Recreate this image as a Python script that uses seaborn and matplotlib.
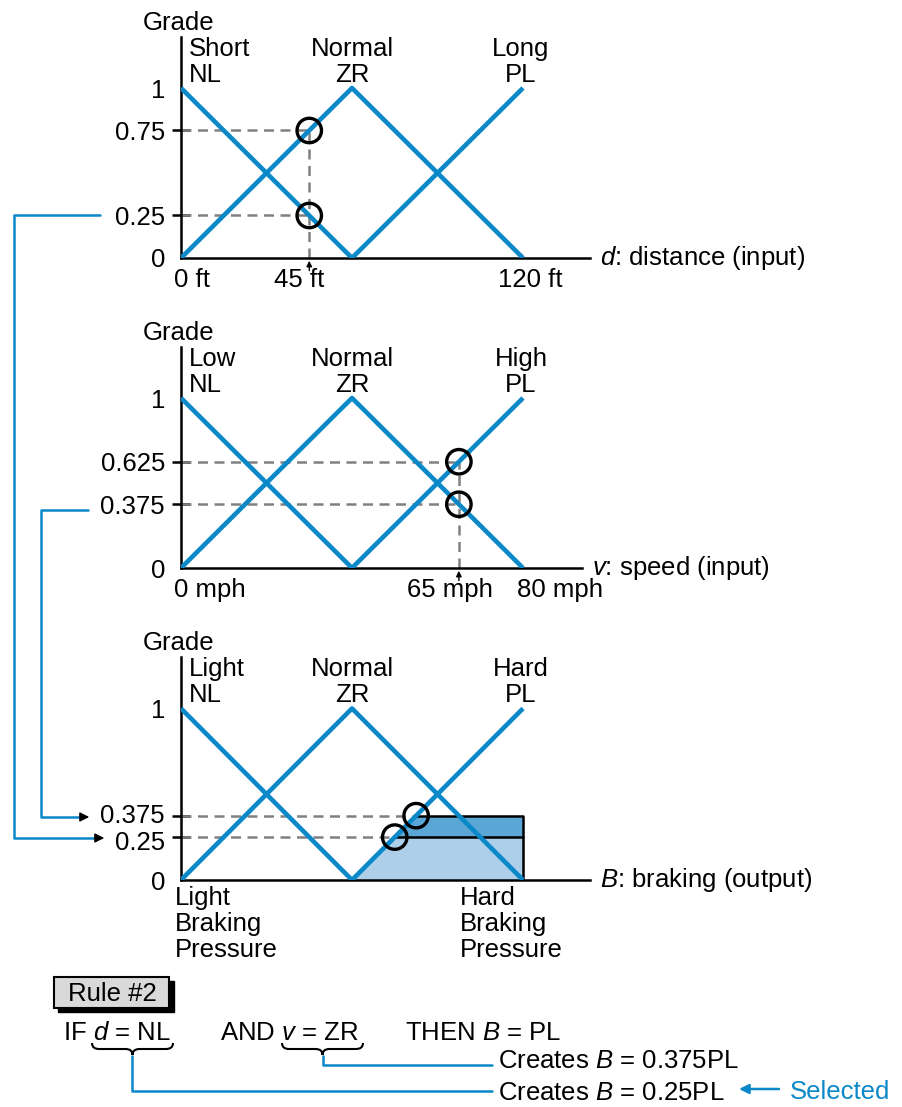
import pandas as pd
import seaborn as sns
import matplotlib.pyplot as plt
from matplotlib.path import Path
from matplotlib.patches import PathPatch, Rectangle

# ---------------------------------------------------------------- data
NL_GRADES = [1, 0]
ZR_GRADES = [0, 1, 0]
PL_GRADES = [0, 1]

DIST_BREAKS = [0, 60, 120]
DIST_INPUT = 45
DIST_GRADES = [0.75, 0.25]
DIST_TICKS = [0, 45, 120]
DIST_TICK_LABELS = ['0 ft', '45 ft', '120 ft']

SPEED_BREAKS = [0, 40, 80]
SPEED_INPUT = 65
SPEED_GRADES = [0.625, 0.375]
SPEED_TICKS = [0, 65, 80]
SPEED_TICK_LABELS = ['0 mph', '65 mph', '80 mph']

BRAKE_BREAKS = [0, 50, 100]
BRAKE_GRADES = [0.375, 0.25]
BRAKE_CUT_X = [68.75, 62.5]     # where PL reaches 0.375 / 0.25

DIST_TERMS = ['Short\nNL', 'Normal\nZR', 'Long\nPL']
SPEED_TERMS = ['Low\nNL', 'Normal\nZR', 'High\nPL']
BRAKE_TERMS = ['Light\nNL', 'Normal\nZR', 'Hard\nPL']

# ---------------------------------------------------------------- style
BLUE = '#0a88c8'
GRAY = '#808080'
FS = 18.5
W, H = 903, 1107
PX_PER_UNIT = 342.0   # pixels between 0 and the top break on the x axis
LS = 1.1

sns.set_theme(style='white')
plt.rcParams['font.family'] = ['Liberation Sans', 'DejaVu Sans']
plt.rcParams['mathtext.fontset'] = 'custom'
plt.rcParams['mathtext.rm'] = 'Liberation Sans'
plt.rcParams['mathtext.it'] = 'Liberation Sans:italic'
plt.rcParams['font.size'] = FS
plt.rcParams['text.color'] = 'black'
plt.rcParams['ytick.labelcolor'] = 'black'
plt.rcParams['xtick.labelcolor'] = 'black'


def membership_frame(breaks):
    lo, mid, hi = breaks
    rows = []
    for term, xs, ys in [('NL', [lo, mid], NL_GRADES),
                         ('ZR', [lo, mid, hi], ZR_GRADES),
                         ('PL', [mid, hi], PL_GRADES)]:
        rows += [dict(x=x, grade=g, term=term) for x, g in zip(xs, ys)]
    return pd.DataFrame(rows)


def px_axes(fig, left, right, top, bottom):
    return fig.add_axes([left / W, 1 - bottom / H, (right - left) / W, (bottom - top) / H])


def setup_panel(ax, breaks, right_px, marks, terms, xlabel, label_shift=(0, 0)):
    df = membership_frame(breaks)
    sns.lineplot(data=df, x='x', y='grade', hue='term', palette=[BLUE] * 3,
                 legend=False, sort=False, estimator=None, lw=3.3, ax=ax,
                 solid_capstyle='butt', zorder=3)
    xmax = breaks[2] * (right_px - 181) / PX_PER_UNIT
    ax.set_xlim(0, xmax)
    ax.set_ylim(0, 1.3)
    ax.set_facecolor('none')
    for s in ['top', 'right']:
        ax.spines[s].set_visible(False)
    for s in ['left', 'bottom']:
        ax.spines[s].set_color('black')
        ax.spines[s].set_linewidth(1.8)
    ax.set_xlabel('')
    ax.set_ylabel('')
    ax.set_xticks([])
    ax.set_yticks(marks, labels=[''] * len(marks))
    ax.set_yticks([0, 1], labels=['0', '1'], minor=True)
    ax.tick_params(axis='y', which='major', direction='inout', length=13,
                   width=1.8, color='black', left=True)
    ax.tick_params(axis='y', which='minor', length=0, pad=11.5, labelsize=FS)
    for m, dy in zip(marks, label_shift):
        ax.annotate(f'{m:g}', xy=(0, m), xytext=(-16, dy), textcoords='offset pixels',
                    ha='right', va='center_baseline', annotation_clip=False)
    ax.annotate('Grade', xy=(0, 1.3), xytext=(-2, 2), textcoords='offset pixels',
                ha='center', va='bottom', annotation_clip=False)
    pos = [(0, 8, 'left'), (breaks[1], 0, 'center'), (breaks[2], -2, 'center')]
    for text, (x, dx, ha) in zip(terms, pos):
        ax.annotate(text, xy=(x, 1.3), xytext=(dx, 0), textcoords='offset pixels',
                    ha=ha, va='top', linespacing=LS, annotation_clip=False)
    ax.annotate(xlabel, xy=(1, 0), xycoords='axes fraction', xytext=(10, 0),
                textcoords='offset pixels', ha='left', va='center')


def guides(ax, xs, grades, vertical=None):
    dash = (0, (4, 2.6))
    for x, g in zip(xs, grades):
        ax.plot([0, x], [g, g], ls=dash, color=GRAY, lw=1.8, zorder=2)
    if vertical is not None:
        ax.plot([vertical, vertical], [0, max(grades)], ls=dash,
                color=GRAY, lw=1.8, zorder=2)
    ax.scatter(xs, grades, s=310, facecolors='none', edgecolors='black',
               linewidths=2.4, zorder=6, clip_on=False)


def x_labels(ax, ticks, labels, offsets):
    for t, lab, (dx, ha) in zip(ticks, labels, offsets):
        ax.annotate(lab, xy=(t, 0), xytext=(dx, -10), textcoords='offset pixels',
                    ha=ha, va='top', annotation_clip=False)


fig = plt.figure(figsize=(W / 100, H / 100), dpi=100)
ov = fig.add_axes([0, 0, 1, 1])
ov.set_xlim(0, W)
ov.set_ylim(H, 0)
ov.axis('off')

# ---------------------------------------------------------------- panel 1: distance
ax1 = px_axes(fig, 181, 590, 37, 258)
setup_panel(ax1, DIST_BREAKS, 590, DIST_GRADES, DIST_TERMS, r'$\mathit{d}$: distance (input)')
guides(ax1, [DIST_INPUT] * 2, DIST_GRADES, vertical=DIST_INPUT)
x_labels(ax1, DIST_TICKS, DIST_TICK_LABELS, [(-7, 'left'), (-10, 'center'), (7, 'center')])
ax1.annotate('', xy=(DIST_INPUT, 0), xytext=(DIST_INPUT, -0.09),
             arrowprops=dict(arrowstyle='-|>', color='black', lw=1, mutation_scale=8),
             annotation_clip=False)

# ---------------------------------------------------------------- panel 2: speed
ax2 = px_axes(fig, 181, 582, 347, 568)
setup_panel(ax2, SPEED_BREAKS, 582, SPEED_GRADES, SPEED_TERMS, r'$\mathit{v}$: speed (input)')
guides(ax2, [SPEED_INPUT] * 2, SPEED_GRADES, vertical=SPEED_INPUT)
x_labels(ax2, SPEED_TICKS, SPEED_TICK_LABELS, [(-7, 'left'), (-9, 'center'), (-6, 'left')])
ax2.annotate('', xy=(SPEED_INPUT, 0), xytext=(SPEED_INPUT, -0.09),
             arrowprops=dict(arrowstyle='-|>', color='black', lw=1, mutation_scale=8),
             annotation_clip=False)

# ---------------------------------------------------------------- panel 3: braking
ax3 = px_axes(fig, 181, 590, 657, 880)
setup_panel(ax3, BRAKE_BREAKS, 590, BRAKE_GRADES, BRAKE_TERMS, r'$\mathit{B}$: braking (output)',
            label_shift=(2, -3))
hi, lo = BRAKE_GRADES
x_hi, x_lo = BRAKE_CUT_X
mid, top = BRAKE_BREAKS[1], BRAKE_BREAKS[2]
ax3.fill_between([mid, x_lo, top], [0, 0, 0], [0, lo, lo], color='#aecfe9', lw=0, zorder=1)
ax3.fill_between([x_lo, x_hi, top], [lo, lo, lo], [lo, hi, hi], color='#5aa7d5', lw=0, zorder=1)
ax3.plot([x_hi, top, top], [hi, hi, 0], color='black', lw=1.8, zorder=2)
ax3.plot([x_lo, top], [lo, lo], color='black', lw=1.8, zorder=2)
guides(ax3, BRAKE_CUT_X, BRAKE_GRADES)
ax3.annotate('Light\nBraking\nPressure', xy=(0, 0), xytext=(-6, -6), textcoords='offset pixels',
             ha='left', va='top', linespacing=LS, annotation_clip=False)
ax3.annotate('Hard\nBraking\nPressure', xy=(top, 0), xytext=(-63, -6), textcoords='offset pixels',
             ha='left', va='top', linespacing=LS, annotation_clip=False)

# ---------------------------------------------------------------- connectors on the left
ov.plot([100, 14, 14, 94], [215, 215, 838, 838], color=BLUE, lw=1.8)
ov.plot([88, 41, 41, 82], [510, 510, 817, 817], color=BLUE, lw=1.8)
for x0, x1, y in [(92, 107, 838), (80, 92, 817)]:
    ov.annotate('', xy=(x1, y), xytext=(x0, y),
                arrowprops=dict(arrowstyle='-|>', color='black', lw=1, mutation_scale=14))

# ---------------------------------------------------------------- rule box
ov.add_patch(Rectangle((58, 981), 116, 31, facecolor='black', edgecolor='black'))
ov.add_patch(Rectangle((54, 977), 115, 31, facecolor='#d9d9d9', edgecolor='black', lw=1.5))
ov.text(112, 994, 'Rule #2', ha='center', va='center')

ov.text(63, 1040, r'IF $\mathit{d}$ = NL', ha='left', va='baseline')
ov.text(220, 1040, r'AND $\mathit{v}$ = ZR', ha='left', va='baseline')
ov.text(405, 1040, r'THEN $\mathit{B}$ = PL', ha='left', va='baseline')


def brace(x0, x1, y0, h):
    xm = (x0 + x1) / 2
    ym = y0 + h / 2
    r = 7
    verts = [(x0, y0), (x0, ym), (x0 + r, ym), (xm - r, ym), (xm, ym), (xm, y0 + h),
             (xm, ym), (xm + r, ym), (x1 - r, ym), (x1, ym), (x1, y0)]
    codes = [Path.MOVETO, Path.CURVE3, Path.CURVE3, Path.LINETO, Path.CURVE3, Path.CURVE3,
             Path.CURVE3, Path.CURVE3, Path.LINETO, Path.CURVE3, Path.CURVE3]
    ov.add_patch(PathPatch(Path(verts, codes), facecolor='none', edgecolor='black', lw=1.5))


brace(92, 173, 1043, 12)
brace(282, 363, 1043, 12)

ov.plot([323, 323, 492], [1056, 1065, 1065], color=BLUE, lw=1.8)
ov.plot([132, 132, 492], [1056, 1091, 1091], color=BLUE, lw=1.8)
ov.text(498, 1068, r'Creates $\mathit{B}$ = 0.375PL', ha='left', va='baseline')
ov.text(498, 1100, r'Creates $\mathit{B}$ = 0.25PL', ha='left', va='baseline')
ov.annotate('', xy=(739, 1089), xytext=(779, 1089),
            arrowprops=dict(arrowstyle='-|>', color=BLUE, lw=1.8, mutation_scale=14,
                            shrinkA=0, shrinkB=0))
ov.text(790, 1099, 'Selected', ha='left', va='baseline', color=BLUE)

fig.savefig('out.png', dpi=100)
plt.close(fig)
